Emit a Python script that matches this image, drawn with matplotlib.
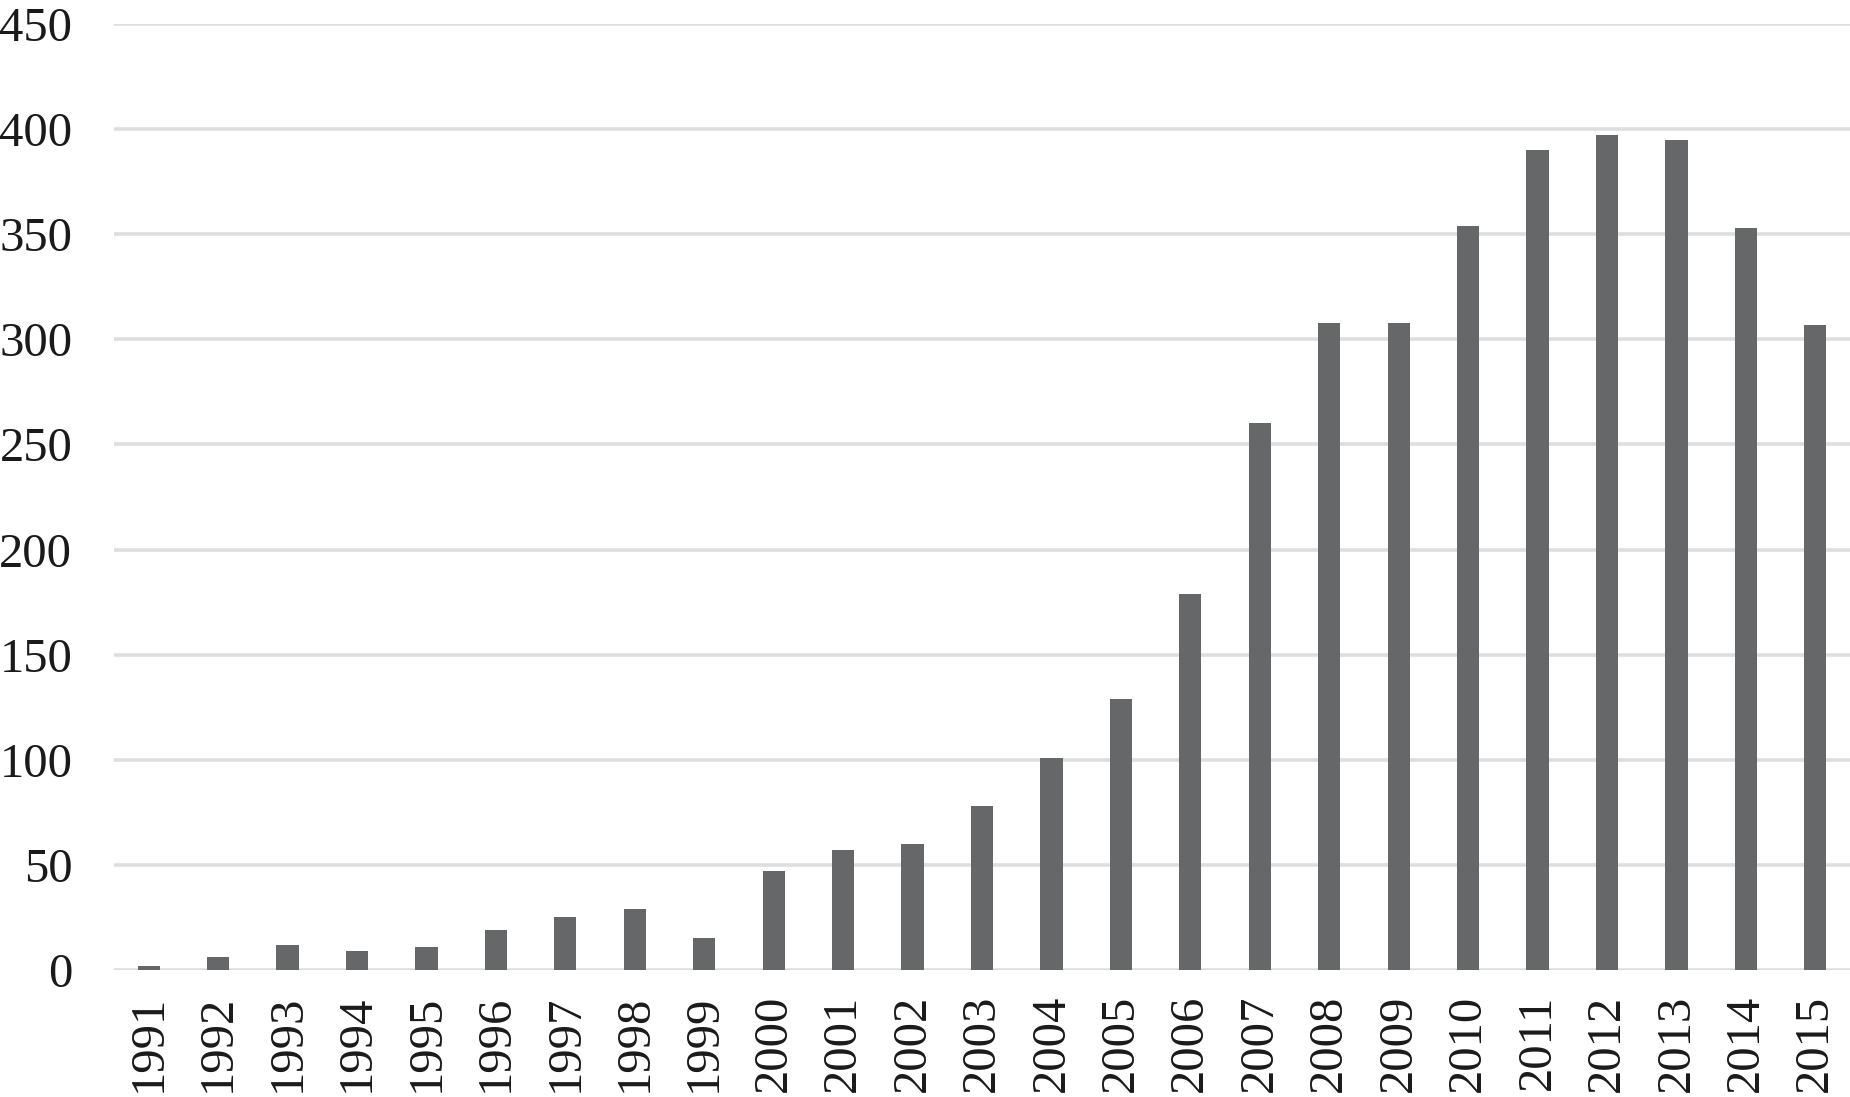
import matplotlib.pyplot as plt

# years and counts
years = [str(y) for y in range(1991, 2016)]
counts = [2, 6, 12, 9, 11, 19, 25, 29, 15, 47, 57, 60, 78, 101, 129,
          179, 260, 308, 308, 354, 390, 397, 395, 353, 307]
yticks = [0, 50, 100, 150, 200, 250, 300, 350, 400, 450]

plt.rcParams['font.family'] = ['Liberation Serif', 'DejaVu Serif']

fig = plt.figure(figsize=(18.5, 10.97), dpi=100)
ax = fig.add_axes([114 / 1850, 1 - 970 / 1097, 1 - 114 / 1850, (970 - 24) / 1097])

x = range(len(years))
ax.bar(x, counts, width=0.32, color='#666769', zorder=3)

ax.set_xlim(-0.5, len(years) - 0.5)
ax.set_ylim(0, 450)
ax.set_yticks(yticks)
ax.set_yticklabels([str(v) for v in yticks], fontsize=35, color='#1a1a1a')
ax.set_xticks(list(x))
ax.set_xticklabels(years, rotation=90, fontsize=35, color='#1a1a1a')
ax.tick_params(axis='both', length=0)
ax.tick_params(axis='y', pad=30)
ax.tick_params(axis='x', pad=18)

ax.grid(axis='y', color='#dedede', linewidth=2.6, zorder=0)
for s in ax.spines.values():
    s.set_visible(False)

fig.savefig('out.png', dpi=100)
